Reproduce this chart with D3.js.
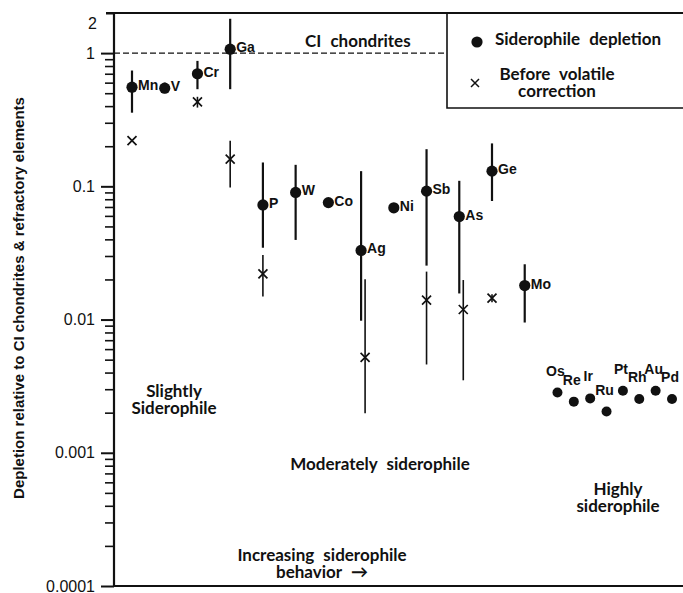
<!DOCTYPE html>
<html>
<head>
<meta charset="utf-8">
<script src="https://cdn.jsdelivr.net/npm/d3@7"></script>
<style>
  body { margin: 0; background: #fff; }
  svg { display: block; }
  .anno { font-family: Lato, "Open Sans", sans-serif; font-weight: 700; font-size: 17px; word-spacing: 5px; fill: #111; }
  .elab { font-family: "Liberation Sans", Arial, sans-serif; font-weight: 700; font-size: 14px; fill: #111; }
</style>
</head>
<body>
<svg width="683" height="593"></svg>
<script>
// moderately / slightly siderophile elements, left to right
var elements    = ["Mn", "V", "Cr", "Ga", "P", "W", "Co", "Ag", "Ni", "Sb", "As", "Ge", "Mo"];
var depletion   = [0.555, 0.545, 0.70, 1.07, 0.0725, 0.090, 0.0755, 0.033, 0.069, 0.092, 0.0593, 0.13, 0.018];
var depLow      = [0.357, 0.50, 0.536, 0.536, 0.0346, 0.0396, null, 0.0098, null, 0.0254, 0.0157, 0.0776, 0.0095];
var depHigh     = [0.74, 0.60, 0.874, 1.81, 0.151, 0.145, null, 0.13, null, 0.19, 0.11, 0.21, 0.026];
// before volatile correction
var beforeVol   = [0.22, null, 0.43, 0.16, 0.022, null, null, 0.0052, null, 0.014, 0.0119, 0.0145, null];
var bvLow       = [null, null, 0.39, 0.098, 0.0149, null, null, 0.00198, null, 0.0046, 0.0035, 0.0135, null];
var bvHigh      = [null, null, 0.47, 0.22, 0.0305, null, null, 0.0201, null, 0.0229, 0.0198, 0.0155, null];
// highly siderophile elements
var hse          = ["Os", "Re", "Ir", "Ru", "Pt", "Rh", "Au", "Pd"];
var hseDepletion = [0.00283, 0.00242, 0.00256, 0.00204, 0.00292, 0.00253, 0.00292, 0.00253];

var majorTicks = [0.0001, 0.001, 0.01, 0.1, 1, 2];

var svg = d3.select("svg");
var plotL = 114, plotT = 13, plotB = 586, plotR = 690;

var y = d3.scaleLog().domain([0.0001, 2]).range([plotB, plotT]);
// position index: main elements 1..13, HSE packed at half spacing
var x = d3.scaleLinear().domain([1, 17.5]).range([132, 672]);

var main = elements.map(function (e, i) {
    return {name: e, pos: i + 1, v: depletion[i], lo: depLow[i], hi: depHigh[i],
            bv: beforeVol[i], bvlo: bvLow[i], bvhi: bvHigh[i]};
});
var hseData = hse.map(function (e, i) {
    return {name: e, pos: 14 + i * 0.5, v: hseDepletion[i]};
});

// y axis: minor ticks
var minor = y.ticks().filter(function (t) { return majorTicks.indexOf(t) < 0 && t < 2; });
var gMinor = svg.append("g").attr("transform", "translate(" + plotL + ",0)")
    .call(d3.axisLeft(y).tickValues(minor).tickSize(9).tickFormat(""));
gMinor.select(".domain").remove();
gMinor.selectAll("line").attr("stroke", "#111").attr("stroke-width", 1.6);

var gMajor = svg.append("g").attr("transform", "translate(" + plotL + ",0)")
    .call(d3.axisLeft(y).tickValues(majorTicks).tickSize(13).tickPadding(6)
        .tickFormat(function (d) { return String(d); }));
gMajor.select(".domain").remove();
gMajor.selectAll("line").attr("stroke", "#111").attr("stroke-width", 2);
gMajor.selectAll("text")
    .attr("font-family", "'Liberation Sans', Arial, sans-serif")
    .attr("font-size", 16).attr("fill", "#111");
gMajor.selectAll(".tick").filter(function (d) { return d === 2; })
    .each(function () {
        d3.select(this).select("line").attr("x2", -8);
        d3.select(this).select("text").attr("x", -17).attr("dy", "0.95em");
    });

// frame lines
svg.append("line").attr("x1", plotL).attr("x2", plotL).attr("y1", plotT - 1).attr("y2", plotB + 1)
    .attr("stroke", "#111").attr("stroke-width", 2.2);
svg.append("line").attr("x1", plotL - 8).attr("x2", plotR).attr("y1", plotT).attr("y2", plotT)
    .attr("stroke", "#111").attr("stroke-width", 2.2);
svg.append("line").attr("x1", plotL).attr("x2", plotR).attr("y1", plotB).attr("y2", plotB)
    .attr("stroke", "#111").attr("stroke-width", 2.2);

// legend box
var legX = 447, legBottom = 108;
svg.append("path")
    .attr("d", "M" + legX + "," + plotT + "V" + legBottom + "H" + plotR)
    .attr("fill", "none").attr("stroke", "#111").attr("stroke-width", 1.6);

// CI chondrites reference line
svg.append("line").attr("x1", plotL).attr("x2", legX).attr("y1", y(1)).attr("y2", y(1))
    .attr("stroke", "#111").attr("stroke-width", 1.4).attr("stroke-dasharray", "6,3");
svg.append("text").attr("class", "anno").attr("x", 305).attr("y", 47).text("CI chondrites");

// y title
svg.append("text")
    .attr("transform", "translate(24," + 298 + ") rotate(-90)")
    .attr("text-anchor", "middle")
    .attr("font-family", "'Liberation Sans', Arial, sans-serif")
    .attr("font-weight", 700).attr("font-size", 15).attr("fill", "#111")
    .text("Depletion relative to CI chondrites & refractory elements");

var xMark = "M-4.5,-4.5L4.5,4.5M-4.5,4.5L4.5,-4.5";

// error bars (depletion)
svg.selectAll(".ebar").data(main.filter(function (d) { return d.lo != null; }))
    .enter().append("line").attr("class", "ebar")
    .attr("x1", function (d) { return x(d.pos); }).attr("x2", function (d) { return x(d.pos); })
    .attr("y1", function (d) { return y(d.lo); }).attr("y2", function (d) { return y(d.hi); })
    .attr("stroke", "#111").attr("stroke-width", 2.2);

// before volatile correction: shift sideways when its bar would overlap the main bar
function bvX(d) {
    var overlap = d.bvlo != null && d.lo != null && d.bvhi > d.lo && d.bvlo < d.hi;
    return x(d.pos) + (overlap ? 4 : 0);
}
var bv = main.filter(function (d) { return d.bv != null; });
svg.selectAll(".bvbar").data(bv.filter(function (d) { return d.bvlo != null; }))
    .enter().append("line").attr("class", "bvbar")
    .attr("x1", bvX).attr("x2", bvX)
    .attr("y1", function (d) { return y(d.bvlo); }).attr("y2", function (d) { return y(d.bvhi); })
    .attr("stroke", "#111").attr("stroke-width", 1.6);
svg.selectAll(".bvmark").data(bv)
    .enter().append("path").attr("class", "bvmark")
    .attr("transform", function (d) { return "translate(" + bvX(d) + "," + y(d.bv) + ")"; })
    .attr("d", xMark).attr("fill", "none").attr("stroke", "#111").attr("stroke-width", 1.7);

// depletion dots + labels
svg.selectAll(".dot").data(main)
    .enter().append("circle").attr("class", "dot")
    .attr("cx", function (d) { return x(d.pos); }).attr("cy", function (d) { return y(d.v); })
    .attr("r", 5.6).attr("fill", "#111");
svg.selectAll(".mlab").data(main)
    .enter().append("text").attr("class", "elab")
    .attr("x", function (d) { return x(d.pos) + 6; }).attr("y", function (d) { return y(d.v) + 3; })
    .text(function (d) { return d.name; });

svg.selectAll(".hdot").data(hseData)
    .enter().append("circle").attr("class", "hdot")
    .attr("cx", function (d) { return x(d.pos); }).attr("cy", function (d) { return y(d.v); })
    .attr("r", 5).attr("fill", "#111");
svg.selectAll(".hlab").data(hseData)
    .enter().append("text").attr("class", "elab").attr("text-anchor", "middle")
    .attr("x", function (d) { return x(d.pos) - 2; }).attr("y", function (d) { return y(d.v) - 17; })
    .text(function (d) { return d.name; });

// legend contents
svg.append("circle").attr("cx", 477).attr("cy", 42).attr("r", 5.6).attr("fill", "#111");
svg.append("text").attr("class", "anno").attr("x", 495).attr("y", 45).text("Siderophile depletion");
svg.append("path").attr("transform", "translate(475,83)").attr("d", "M-4,-4L4,4M-4,4L4,-4")
    .attr("fill", "none").attr("stroke", "#111").attr("stroke-width", 1.5);
svg.append("text").attr("class", "anno").attr("x", 557).attr("y", 80).attr("text-anchor", "middle").text("Before volatile");
svg.append("text").attr("class", "anno").attr("x", 557).attr("y", 97).attr("text-anchor", "middle").text("correction");

// group annotations
function anno(cx, lines, y0) {
    lines.forEach(function (t, i) {
        svg.append("text").attr("class", "anno").attr("text-anchor", "middle")
            .attr("x", cx).attr("y", y0 + i * 17).text(t);
    });
}
anno(174, ["Slightly", "Siderophile"], 397);
anno(380, ["Moderately siderophile"], 470);
anno(618, ["Highly", "siderophile"], 495);
anno(322, ["Increasing siderophile", "behavior \u2192"], 561);
</script>
</body>
</html>
